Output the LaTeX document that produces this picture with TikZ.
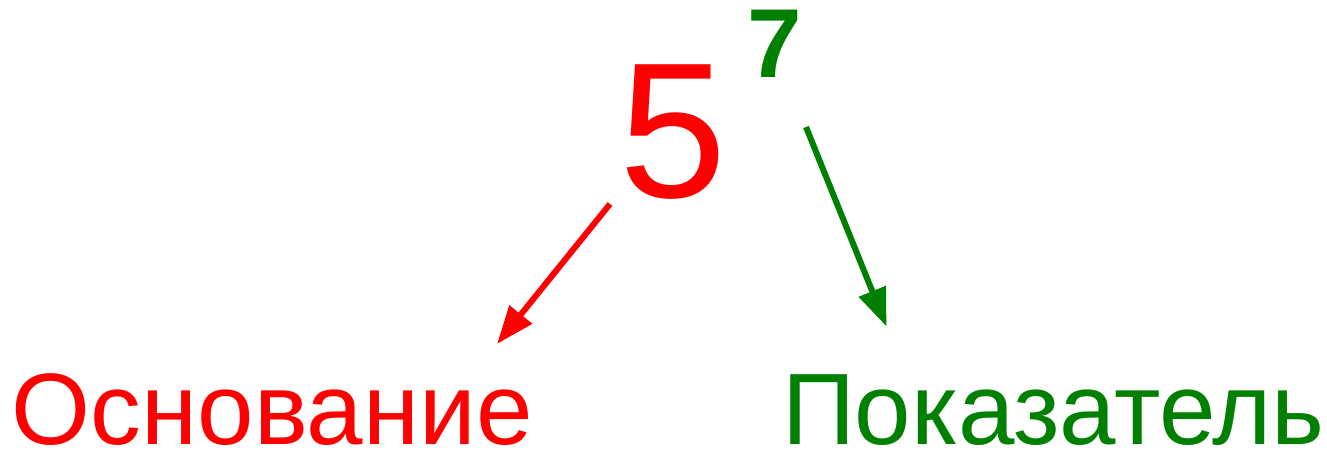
\documentclass[tikz,border=0pt]{standalone}
\usepackage{fontspec}
\setmainfont{Liberation Sans}
\usetikzlibrary{arrows.meta}
\definecolor{myred}{RGB}{255,0,0}
\definecolor{mygreen}{RGB}{0,128,0}
\tikzset{
  lbl/.style={inner sep=0pt, outer sep=0pt, anchor=base west, font=\fontsize{101.5}{101.5}\selectfont},
  arr/.style={line width=6pt, -{Triangle[length=38pt,width=28pt]}}
}
\begin{document}
\begin{tikzpicture}[x=1pt,y=-1pt]
\useasboundingbox (0,0) rectangle (1327,450);
\node[lbl, text=myred] (base) at (12,444) {Основание};
\node[lbl, text=mygreen] (expo) at (782,444) {Показатель};
\node[inner sep=0pt, outer sep=0pt, anchor=base west, text=myred, font=\fontsize{193}{193}\selectfont] (five) at (619,197) {5};
\node[inner sep=0pt, outer sep=0pt, anchor=base west, text=mygreen, font=\bfseries\fontsize{98}{98}\selectfont] (seven) at (747,77) {7};
\coordinate (rs) at (610,204);
\coordinate (re) at (497,344);
\coordinate (gs) at (806,127);
\coordinate (ge) at (886.5,326.5);
\draw[arr, draw=myred, fill=myred] (rs) -- (re);
\draw[arr, draw=mygreen, fill=mygreen] (gs) -- (ge);
\end{tikzpicture}
\end{document}
